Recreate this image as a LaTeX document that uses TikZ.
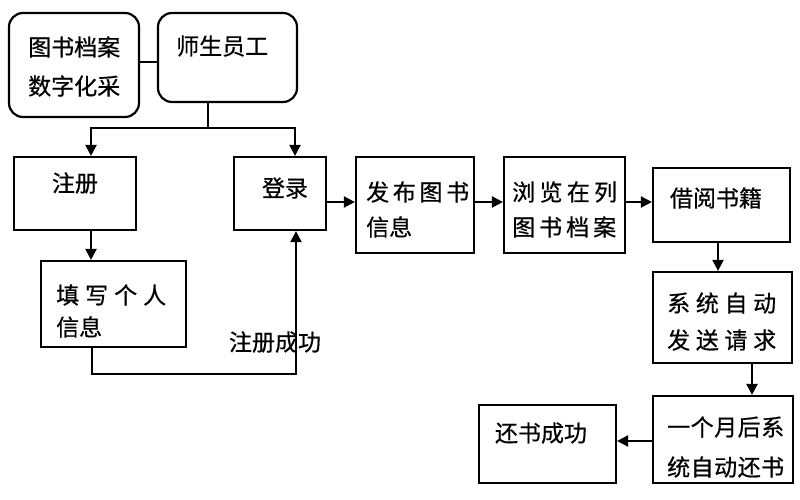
\documentclass[tikz,border=0pt]{standalone}
\usepackage{fontspec}
\newfontfamily\cjk[FakeBold=0.6]{Noto Sans CJK SC}
\usetikzlibrary{arrows.meta}
\newcommand\spr[2]{\makebox[#1pt]{#2}}
\begin{document}
\begin{tikzpicture}[x=1pt,y=-1pt,
  box/.style={draw,line width=2.2pt,inner sep=0pt},
  rbox/.style={box,rounded corners=14pt},
  txt/.style={inner sep=0pt,anchor=west,font=\cjk\fontsize{23}{23}\selectfont},
  ctxt/.style={txt,anchor=center},
  ln/.style={line width=2.2pt},
  arr/.style={line width=2.2pt,-{Triangle[length=11pt,width=11pt]}}]
\useasboundingbox (0,0) rectangle (800,500);
% boxes
\node[rbox,minimum width=130pt,minimum height=104pt] (A) at (74,65) {};
\node[rbox,minimum width=139pt,minimum height=89pt] (B) at (227.5,57.5) {};
\node[box,minimum width=122pt,minimum height=73pt] (C) at (75,193.5) {};
\node[box,minimum width=92pt,minimum height=73pt] (D) at (280,193.5) {};
\node[box,minimum width=145pt,minimum height=86pt] (E) at (113.5,304) {};
\node[box,minimum width=118pt,minimum height=96pt] (F) at (415,205) {};
\node[box,minimum width=121pt,minimum height=96pt] (G) at (564.5,205) {};
\node[box,minimum width=137pt,minimum height=74pt] (H) at (721.5,205) {};
\node[box,minimum width=139pt,minimum height=91pt] (I) at (722.5,317.5) {};
\node[box,minimum width=140pt,minimum height=87pt] (J) at (723,439.5) {};
\node[box,minimum width=137pt,minimum height=78pt] (K) at (547.5,444) {};
% texts
\node[txt] (A1) at (28,47) {图书档案};
\node[txt] (A2) at (28,86) {数字化采};
\node[txt] (B1) at (176,46) {师生员工};
\node[ctxt] (C1) at (75,183) {注册};
\node[ctxt] (D1) at (285,188) {登录};
\node[txt] (E1) at (56,295) {\spr{110}{填\hfill 写\hfill 个\hfill 人}};
\node[txt] (E2) at (56,327) {信息};
\node[ctxt] (L1) at (275,342) {注册成功};
\node[txt] (F1) at (366,192) {\spr{103}{发\hfill 布\hfill 图\hfill 书}};
\node[txt] (F2) at (366,227) {信息};
\node[txt] (G1) at (512,192) {\spr{105}{浏\hfill 览\hfill 在\hfill 列}};
\node[txt] (G2) at (512,227) {\spr{104}{图\hfill 书\hfill 档\hfill 案}};
\node[ctxt] (H1) at (716,198) {借阅书籍};
\node[txt] (I1) at (667,303) {\spr{109}{系\hfill 统\hfill 自\hfill 动}};
\node[txt] (I2) at (667,340) {\spr{109}{发\hfill 送\hfill 请\hfill 求}};
\node[txt] (J1) at (667,427) {\spr{117}{一\hfill 个\hfill 月\hfill 后\hfill 系}};
\node[txt] (J2) at (667,467) {\spr{117}{统\hfill 自\hfill 动\hfill 还\hfill 书}};
\node[ctxt] (K1) at (541,433) {还书成功};
% helper coordinates
\coordinate (yab) at (0,62);
\coordinate (s) at (208,128);
\coordinate (cx) at (91,0);
\coordinate (dx) at (295,0);
\coordinate (lp) at (92,374);
\coordinate (rp) at (296,374);
\coordinate (y1) at (0,202);
\coordinate (hx) at (718,0);
\coordinate (ix) at (752,0);
\coordinate (y2) at (0,441);
% connectors
\draw[ln] (A.east |- yab) -- (B.west |- yab);
\draw[ln] (B.south -| s) -- (s);
\draw[arr] (s) -| (cx |- C.north);
\draw[arr] (s) -| (dx |- D.north);
\draw[arr] (cx |- C.south) -- (cx |- E.north);
\draw[arr] (E.south -| lp) -- (lp) -- (rp) -- (rp |- D.south);
\draw[arr] (D.east |- y1) -- (F.west |- y1);
\draw[arr] (F.east |- y1) -- (G.west |- y1);
\draw[arr] (G.east |- y1) -- (H.west |- y1);
\draw[arr] (hx |- H.south) -- (hx |- I.north);
\draw[arr] (ix |- I.south) -- (ix |- J.north);
\draw[arr] (J.west |- y2) -- (K.east |- y2);
\end{tikzpicture}
\end{document}
